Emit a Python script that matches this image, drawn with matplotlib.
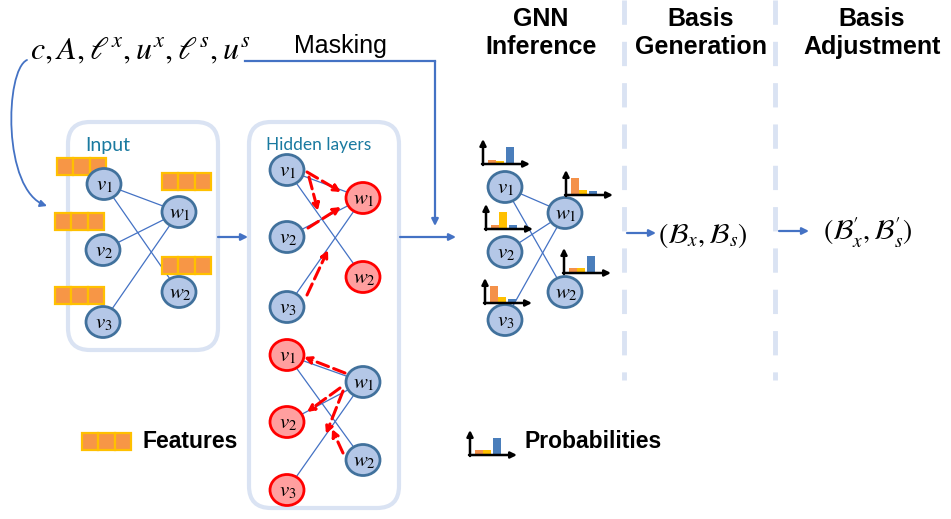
import numpy as np
import matplotlib.pyplot as plt
from matplotlib.patches import FancyBboxPatch, Ellipse, Rectangle, FancyArrowPatch
from matplotlib.path import Path

plt.rcParams['mathtext.fontset'] = 'stix'

# text content
stage_titles = ['GNN\nInference', 'Basis\nGeneration', 'Basis\nAdjustment']
input_formula = r'$c, A, \ell^x, u^x, \ell^s, u^s$'
basis_out = r'$(\mathcal{B}_x, \mathcal{B}_s)$'
basis_adj = r'$(\mathcal{B}^{\prime}_{x}, \mathcal{B}^{\prime}_{s})$'
v_labels = [r'$v_1$', r'$v_2$', r'$v_3$']
w_labels = [r'$w_1$', r'$w_2$']
edges = [(0, 0), (0, 1), (1, 0), (2, 0)]  # (v index, w index)

# predicted class probabilities (orange, yellow, blue), relative heights
prob_v = [[0.25, 0.2, 1.0], [0.22, 1.0, 0.22], [1.0, 0.33, 0.22]]
prob_w = [[1.0, 0.3, 0.22], [0.3, 0.3, 1.0]]
prob_legend = [0.3, 0.3, 1.0]

# colours
node_blue, edge_blue = '#b4c7e7', '#41719c'
node_red, edge_red = '#ff9f9f', '#ff0000'
line_blue = '#4472c4'
box_col = '#dae3f3'
teal = '#1a7aa0'
bar_cols = ['#f4914a', '#ffc000', '#4a7ebb']

fig = plt.figure(figsize=(9.51, 5.19), dpi=100)
ax = fig.add_axes([0, 0, 1, 1])
ax.set_xlim(0, 951)
ax.set_ylim(519, 0)
ax.axis('off')


def node(x, y, label, red=False):
    fc, ec = (node_red, edge_red) if red else (node_blue, edge_blue)
    ax.add_patch(Ellipse((x, y), 34, 31, fc=fc, ec=ec, lw=2, zorder=4))
    ax.text(x + 1, y + 1, label, fontsize=15, ha='center', va='center', zorder=5)


def graph(vpos, wpos, vred=False, wred=False):
    for i, j in edges:
        ax.plot([vpos[i][0], wpos[j][0]], [vpos[i][1], wpos[j][1]],
                color=line_blue, lw=0.9, zorder=2)
    for p, lab in zip(vpos, v_labels):
        node(p[0], p[1], lab, vred)
    for p, lab in zip(wpos, w_labels):
        node(p[0], p[1], lab, wred)


def features(x, y):
    for k in range(3):
        ax.add_patch(Rectangle((x + k * 16.3, y), 16.3, 17, fc='#f79646',
                               ec='#ffc000', lw=1.6, zorder=3))


def probs(ox, oy, vals):
    for k, v in enumerate(vals):
        offs = [5, 13, 23][k]
        ax.add_patch(Rectangle((ox + offs, oy), 7.5, -17 * v, fc=bar_cols[k],
                               ec='none', zorder=3))
    ax.annotate('', xy=(ox, oy - 25), xytext=(ox, oy + 1),
                arrowprops=dict(arrowstyle='-|>', color='k', lw=1.8,
                                mutation_scale=9, shrinkA=0, shrinkB=0), zorder=4)
    ax.annotate('', xy=(ox + 47, oy), xytext=(ox - 1, oy),
                arrowprops=dict(arrowstyle='-|>', color='k', lw=1.8,
                                mutation_scale=9, shrinkA=0, shrinkB=0), zorder=4)


def blue_arrow(p0, p1):
    ax.annotate('', xy=p1, xytext=p0,
                arrowprops=dict(arrowstyle='-|>', color=line_blue, lw=1.6,
                                mutation_scale=10, shrinkA=0, shrinkB=0))


def red_arrow(p0, p1):
    ax.add_patch(FancyArrowPatch(p0, p1, arrowstyle='-|>', mutation_scale=10,
                                 color=edge_red, lw=2.2, linestyle=(0, (4, 1.8)),
                                 shrinkA=0, shrinkB=0, zorder=3))


# --- input formula and masking path
ax.text(30, 51, input_formula, fontsize=23, ha='left', va='center')
ax.text(340, 46, 'Masking', fontsize=18, family='Liberation Sans',
        ha='center', va='center')
ax.plot([245, 435], [61, 61], color=line_blue, lw=1.6)
blue_arrow((435, 61), (435, 226))
curve = Path([(27, 60), (5, 70), (2, 190), (47, 206)],
             [Path.MOVETO, Path.CURVE4, Path.CURVE4, Path.CURVE4])
ax.add_patch(FancyArrowPatch(path=curve, arrowstyle='-|>', mutation_scale=10,
                             color=line_blue, lw=1.3))

# --- input box
ax.add_patch(FancyBboxPatch((68, 122), 150, 228, boxstyle='round,pad=0,rounding_size=22',
                            fc='none', ec=box_col, lw=3, zorder=1))
ax.text(85, 146, 'Input', fontsize=14, color=teal, family='Lato', va='center')
for fx, fy in [(57, 158), (55, 213), (55, 287), (162, 173), (162, 257)]:
    features(fx, fy)
graph([(104, 184), (103, 250), (103, 322)], [(179, 212), (179, 292)])

blue_arrow((218, 237), (248, 237))

# --- hidden layers box
ax.add_patch(FancyBboxPatch((249, 122), 150, 386, boxstyle='round,pad=0,rounding_size=22',
                            fc='none', ec=box_col, lw=3, zorder=1))
ax.text(266, 145, 'Hidden layers', fontsize=12.5, color=teal, family='Lato', va='center')
graph([(287, 170), (287, 237), (287, 307)], [(363, 198), (363, 277)], wred=True)
graph([(287, 355), (287, 422), (287, 490)], [(363, 382), (363, 460)], vred=True)
for p0, p1 in [((307, 172), (341, 192)), ((309, 177), (318, 211)),
               ((308, 228), (341, 207)), ((307, 295), (328, 250)),
               ((345, 373), (304, 357)), ((340, 388), (307, 412)),
               ((343, 391), (326, 434)), ((343, 453), (332, 429))]:
    red_arrow(p0, p1)

blue_arrow((400, 237), (456, 237))

# --- GNN inference
gv = [(505, 187), (505, 252), (505, 320)]
gw = [(565, 213), (565, 292)]
graph(gv, gw)
for (ox, oy), vals in zip([(483, 164), (486, 229), (485, 303)], prob_v):
    probs(ox, oy, vals)
for (ox, oy), vals in zip([(566, 195), (564, 273)], prob_w):
    probs(ox, oy, vals)

# --- separators and stage titles
for sx in [624, 775]:
    ax.plot([sx, sx], [0, 380], color=box_col, lw=3.5, linestyle=(0, (5, 3.5)))
for tx, title in zip([541, 701, 872], stage_titles):
    ax.text(tx, 33, title, fontsize=18, fontweight='bold', family='Liberation Sans',
            ha='center', va='center', linespacing=1.25)

blue_arrow((627, 233), (656, 233))
ax.text(658, 235, basis_out, fontsize=20, ha='left', va='center')
blue_arrow((779, 231), (809, 231))
ax.text(823, 233, basis_adj, fontsize=20, ha='left', va='center')

# --- legend
features(82, 433)
ax.text(142, 442, 'Features', fontsize=16.5, fontweight='bold',
        family='Liberation Sans', va='center')
probs(470, 455, prob_legend)
ax.text(525, 441, 'Probabilities', fontsize=16.5, fontweight='bold',
        family='Liberation Sans', va='center')

fig.savefig('out.png', dpi=100)
